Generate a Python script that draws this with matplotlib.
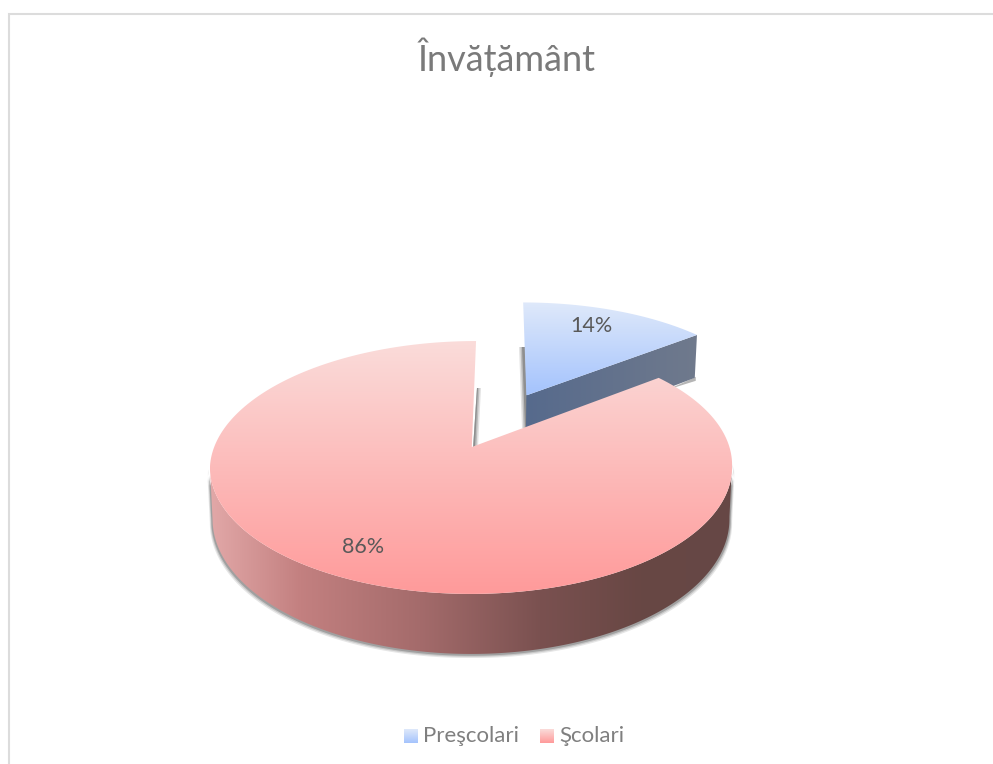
import numpy as np
import matplotlib
matplotlib.use('Agg')
import matplotlib.pyplot as plt
from matplotlib.patches import Polygon, Rectangle

labels = ['Preşcolari', 'Şcolari']
values = [14.4, 85.6]
pct_text = ['14%', '86%']

# projection of the pie plane, fitted on the picture (pixels)
CX, CY = 471, 447
XR = 257.6
C_P = 0.162
A_P = -50.7
DEPTH = 50.3
EXPLODE = 0.5
SHEAR = 0.04


def project(u, v, low=False):
    den = 1 + C_P * v
    x = XR * u / den
    y = (A_P * v + CY) / den
    sh = np.maximum(467 - y, 0) * SHEAR
    if low:
        return CX + x * 0.99 + sh, y + DEPTH / den
    return CX + x + sh, y


def rim(a0, a1, n=200):
    t = np.radians(np.linspace(a0, a1, n))
    return np.sin(t), np.cos(t)


def vgrad(ax, poly, c_top, c_bot):
    xy = poly.get_xy()
    y0, y1 = xy[:, 1].min(), xy[:, 1].max()
    x0, x1 = xy[:, 0].min(), xy[:, 0].max()
    c_top = np.array(matplotlib.colors.to_rgb(c_top))
    c_bot = np.array(matplotlib.colors.to_rgb(c_bot))
    f = np.linspace(0, 1, 256)[:, None, None]
    img = c_top[None, None, :] * (1 - f) + c_bot[None, None, :] * f
    im = ax.imshow(img, extent=(x0, x1, y1, y0), aspect='auto', zorder=poly.get_zorder(), interpolation='bilinear')
    ax.add_patch(poly)
    poly.set_visible(False)
    im.set_clip_path(poly)


def hgrad(ax, poly, stops, colors):
    xy = poly.get_xy()
    y0, y1 = xy[:, 1].min(), xy[:, 1].max()
    x0, x1 = xy[:, 0].min(), xy[:, 0].max()
    rgb = np.array([matplotlib.colors.to_rgb(c) for c in colors])
    f = np.linspace(x0, x1, 512)
    img = np.stack([np.interp(f, stops, rgb[:, i]) for i in range(3)], axis=1)[None, :, :]
    im = ax.imshow(img, extent=(x0, x1, y1, y0), aspect='auto', zorder=poly.get_zorder(), interpolation='bilinear')
    ax.add_patch(poly)
    poly.set_visible(False)
    im.set_clip_path(poly)


fig = plt.figure(figsize=(9.93, 7.64), dpi=100)
ax = fig.add_axes([0, 0, 1, 1])
ax.set_xlim(0, 993)
ax.set_ylim(764, 0)
ax.axis('off')

ax.add_patch(Rectangle((8.5, 13.5), 1100, 900, fc='white', ec='#dcdcdc', lw=1.5, zorder=0))

angle = values[0] / sum(values) * 360
plt.rcParams['font.family'] = ['Lato', 'DejaVu Sans']

# exploded slice
mid = np.radians(angle / 2)
du, dv = EXPLODE * np.sin(mid), EXPLODE * np.cos(mid)
u, v = rim(0, angle)
u = np.r_[0, u] + du
v = np.r_[0, v] + dv
tx, ty = project(u, v)
bx, by = project(u, v, low=True)

# shadow and wall of the slice
for w, col in [(5, '#e2e2e2'), (3.5, '#bdbdbd'), (2, '#8f8f8f')]:
    ax.add_patch(Polygon([(524 - w, 347), (525, 347), (528, 428), (527 - w, 428)], fc=col, ec='none', zorder=1))
    ax.add_patch(Polygon([(476 + 1, 388), (476 + w, 388), (473 + w, 447), (473, 449)], fc=col, ec='none', zorder=1))
ax.add_patch(Polygon([(tx[-1] - 3, by[-1]), (bx[-1] + 1, by[-1] - 1), (bx[-1] + 1, by[-1] + 3), (tx[-1] - 30, by[-1] + 12)], fc='#b5b5b5', ec='none', zorder=1))
wall = Polygon([(tx[0], ty[0]), (tx[-1], ty[-1]), (bx[-1], by[-1]), (bx[0], by[0])], closed=True, zorder=2)
hgrad(ax, wall, [526, 699], ['#566a8c', '#707a8c'])
top = Polygon(np.c_[tx, ty], closed=True, zorder=3)
vgrad(ax, top, '#dfe9fa', '#a4c3fd')

# big slice
u, v = rim(angle, 360, 500)
tx, ty = project(u, v)
bx, by = project(u, v, low=True)
i0 = np.argmax(tx)
i1 = np.argmin(tx)
out_x = np.r_[tx[i0:i1 + 1], bx[i0:i1 + 1][::-1]]
out_y = np.r_[ty[i0:i1 + 1], by[i0:i1 + 1][::-1]]
for off, col in [(4.5, '#e6e6e6'), (3.2, '#c8c8c8'), (2, '#a0a0a0')]:
    ax.add_patch(Polygon(np.c_[out_x + np.sign(out_x - CX) * off * 0.6, out_y + off * 0.9], fc=col, ec='none', zorder=4))
wall = Polygon(np.c_[out_x, out_y], closed=True, zorder=5)
hgrad(ax, wall, [210, 300, 420, 540, 640, 732], ['#e2a8a8', '#c38080', '#a46b6b', '#7a5150', '#684744', '#664846'])
apex_x, apex_y = project(0.0, 0.0)
top = Polygon(np.c_[np.r_[apex_x, tx], np.r_[apex_y, ty]], closed=True, zorder=6)
vgrad(ax, top, '#fadcda', '#ff9a9a')

ax.text(591.5, 326, pct_text[0], fontsize=15.5, color='#595959', ha='center', va='center', zorder=8)
ax.text(363.5, 547, pct_text[1], fontsize=15.5, color='#595959', ha='center', va='center', zorder=8)
ax.text(507, 57, 'Învățământ', fontsize=26, color='#7a7a7a', ha='center', va='center', zorder=8)

# legend
for x0, name, tx0, c0, c1 in [(404, labels[0], 424, '#dfe9fa', '#a4c3fd'), (540, labels[1], 560, '#fadcda', '#ff9a9a')]:
    sw = Polygon([(x0, 729), (x0 + 14, 729), (x0 + 14, 743), (x0, 743)], closed=True, zorder=7)
    vgrad(ax, sw, c0, c1)
    ax.text(tx0 - 1, 736, name, fontsize=16, color='#7f7f7f', ha='left', va='center', zorder=8)

ax.set_xlim(0, 993)
ax.set_ylim(764, 0)
fig.savefig('out.png', dpi=100)
